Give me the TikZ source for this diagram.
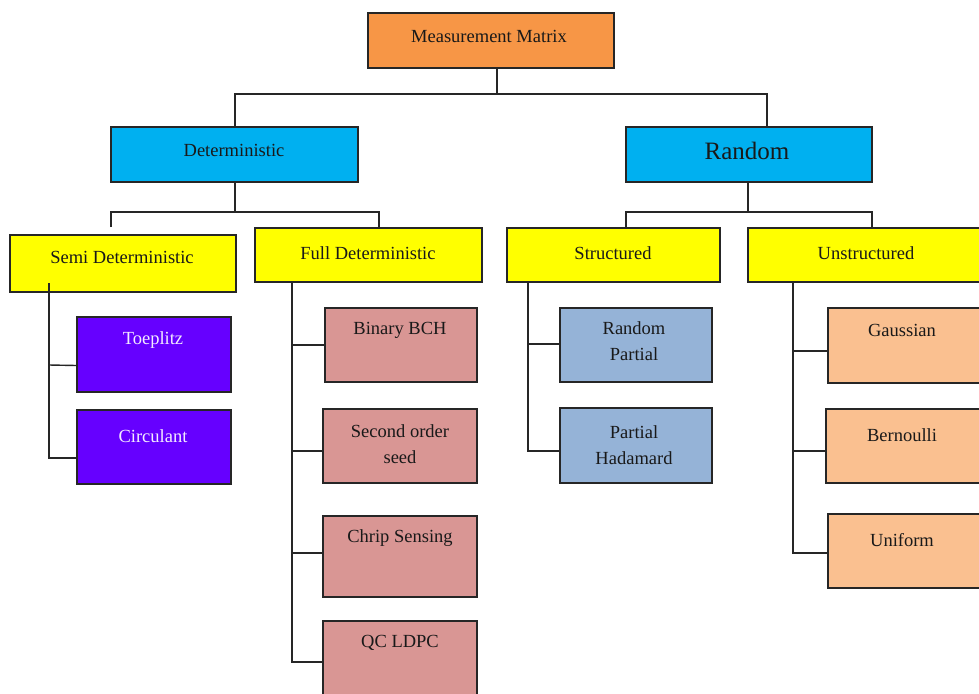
\documentclass[tikz,border=0pt]{standalone}
\usepackage{fontspec}
\setmainfont{Liberation Serif}
\definecolor{cOrange}{HTML}{F79646}
\definecolor{cBlue}{HTML}{00B0F0}
\definecolor{cYellow}{HTML}{FFFF00}
\definecolor{cPurple}{HTML}{6600FF}
\definecolor{cPink}{HTML}{D99694}
\definecolor{cLBlue}{HTML}{95B3D7}
\definecolor{cPeach}{HTML}{FAC090}
\definecolor{cLine}{HTML}{262626}
\tikzset{
  box/.style={draw=cLine, line width=1.4pt, rectangle, inner sep=0pt},
  txt/.style={font=\fontsize{18.5}{26}\selectfont, text=black!90, align=center, inner sep=0pt},
  conn/.style={draw=cLine, line width=1.4pt},
}
\newcommand{\bx}[6]{% name, x1, y1, x2, y2, colour
  \node[box, fill=#6, minimum width={(#4-#2)*1pt}, minimum height={(#5-#3)*1pt}] (#1) at ({(#2+#4)/2},{(#3+#5)/2}) {};}
\begin{document}
\begin{tikzpicture}[x=1pt,y=-1pt]
\clip (0,0) rectangle (979,693);
\fill[white] (0,0) rectangle (979,693);
% boxes
\bx{mm}{368}{13}{614}{68}{cOrange}
\bx{det}{111}{127}{358}{182}{cBlue}
\bx{rnd}{626}{127}{872}{182}{cBlue}
\bx{semi}{10}{235}{236}{292}{cYellow}
\bx{full}{255}{228}{482}{282}{cYellow}
\bx{str}{507}{228}{720}{282}{cYellow}
\bx{uns}{748}{228}{1000}{282}{cYellow}
\bx{toe}{77}{317}{231}{392}{cPurple}
\bx{circ}{77}{410}{231}{484}{cPurple}
\bx{bch}{325}{308}{477}{382}{cPink}
\bx{sos}{323}{409}{477}{483}{cPink}
\bx{chrip}{323}{516}{477}{597}{cPink}
\bx{qc}{323}{621}{477}{720}{cPink}
\bx{rp}{560}{308}{712}{382}{cLBlue}
\bx{ph}{560}{408}{712}{483}{cLBlue}
\bx{gau}{828}{308}{1000}{383}{cPeach}
\bx{ber}{826}{409}{1000}{483}{cPeach}
\bx{uni}{828}{514}{1000}{588}{cPeach}
% texts
\node[txt] (tmm) at (489,36) {Measurement Matrix};
\node[txt] (tdet) at (234,150) {Deterministic};
\node[txt, font=\fontsize{25}{30}\selectfont] (trnd) at (747,151) {Random};
\node[txt] (tsemi) at (122,257) {Semi Deterministic};
\node[txt] (tfull) at (368,253) {Full Deterministic};
\node[txt] (tstr) at (613,253) {Structured};
\node[txt] (tuns) at (866,253) {Unstructured};
\node[txt, text=white!92!cPurple] (ttoe) at (153,340) {Toeplitz};
\node[txt, text=white!92!cPurple] (tcirc) at (153,436) {Circulant};
\node[txt] (tbch) at (400,330) {Binary BCH};
\node[txt] (tsos) at (400,444) {Second order\\seed};
\node[txt] (tchrip) at (400,538) {Chrip Sensing};
\node[txt] (tqc) at (400,643) {QC LDPC};
\node[txt] (trp) at (634,341) {Random\\Partial};
\node[txt] (tph) at (634,445) {Partial\\Hadamard};
\node[txt] (tgau) at (902,330) {Gaussian};
\node[txt] (tber) at (902,435) {Bernoulli};
\node[txt] (tuni) at (902,540) {Uniform};
% connectors
\coordinate (m0) at (mm.south -| 497,0);
\coordinate (j1) at (497,94);
\draw[conn] (m0) -- (j1);
\draw[conn] (det.north -| 235,0) |- (j1) -| (rnd.north -| 767,0);
\coordinate (j2) at (235,212);
\coordinate (semitop) at (111,227);
\draw[conn] (det.south -| 235,0) -- (j2);
\draw[conn] (semitop) |- (j2) -| (full.north -| 379,0);
\coordinate (j3) at (748,212);
\draw[conn] (rnd.south -| 748,0) -- (j3);
\draw[conn] (str.north -| 626,0) |- (j3) -| (uns.north -| 872,0);
% semi deterministic
\coordinate (sv) at (49,283);
\draw[conn] (sv) |- ([yshift=-11pt]circ.west);
\draw[conn] (sv |- 0,365) -- ([yshift=-11pt]toe.west);
% full deterministic
\coordinate (fv) at (292,282);
\draw[conn] (fv) |- (qc.west |- 0,662);
\draw[conn] (fv |- bch.west) -- (bch.west);
\draw[conn] (fv |- 0,451) -- (sos.west |- 0,451);
\draw[conn] (fv |- 0,553) -- (chrip.west |- 0,553);
% structured
\coordinate (stv) at (528,282);
\draw[conn] (stv) |- (ph.west |- 0,451);
\draw[conn] (stv |- 0,344) -- (rp.west |- 0,344);
% unstructured
\coordinate (uv) at (793,282);
\draw[conn] (uv) |- (uni.west |- 0,553);
\draw[conn] (uv |- 0,351) -- (gau.west |- 0,351);
\draw[conn] (uv |- 0,451) -- (ber.west |- 0,451);
\end{tikzpicture}
\end{document}
